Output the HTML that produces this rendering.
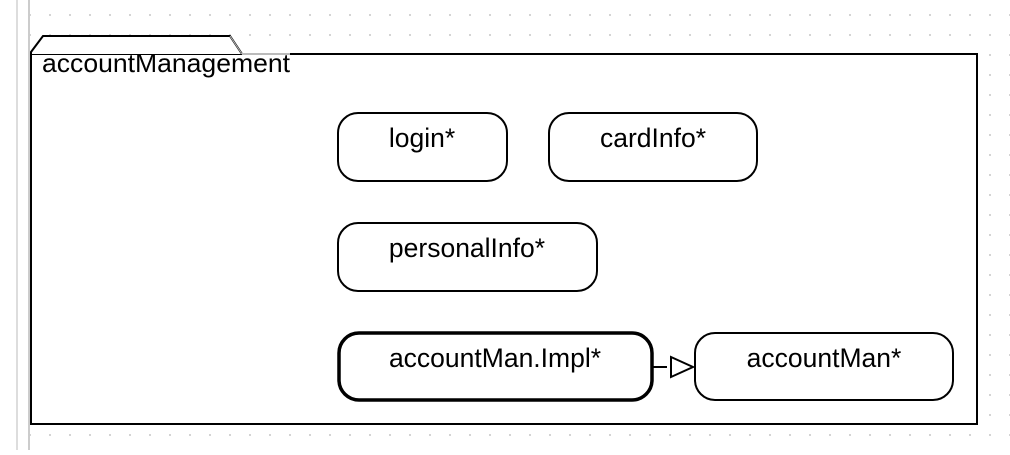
<!DOCTYPE html>
<html><head><style>
body{margin:0;width:1010px;height:450px;overflow:hidden;background:#fff;font-family:"Liberation Sans",sans-serif;}
</style></head><body>
<svg width="1010" height="450" xmlns="http://www.w3.org/2000/svg">
<defs><pattern id="d" x="0" y="0" width="20" height="20" patternUnits="userSpaceOnUse"><rect x="9" y="14" width="2" height="2" fill="#d4d4d4"/></pattern></defs>
<rect x="30" y="0" width="980" height="450" fill="url(#d)"/>
<line x1="17" y1="0" x2="17" y2="450" stroke="#ddd" stroke-width="2"/>
<line x1="29" y1="0" x2="29" y2="450" stroke="#ccc" stroke-width="2"/>
<rect x="31" y="54" width="946" height="370" fill="#fff" stroke="#000" stroke-width="2"/>
<path d="M31 54 L31 52 L43 36 L230 36 L242 54" fill="#fff" stroke="#000" stroke-width="2"/>
<rect x="32" y="55" width="258" height="4" fill="#fff"/>
<line x1="242" y1="54" x2="290" y2="54" stroke="#bbb" stroke-width="2"/>
<line x1="230" y1="36" x2="242" y2="54" stroke="#bbb" stroke-width="1"/>
<text x="42" y="72" font-size="26" textLength="248" lengthAdjust="spacingAndGlyphs" font-family="Liberation Sans,sans-serif">accountManagement</text>
<g fill="#fff" stroke="#000" stroke-width="2">
<rect x="338" y="113" width="169" height="68" rx="20"/>
<rect x="549" y="113" width="208" height="68" rx="20"/>
<rect x="338" y="223" width="259" height="68" rx="20"/>
<rect x="339" y="333" width="313" height="67" rx="20" stroke-width="3.5"/>
<rect x="695" y="333" width="258" height="67" rx="20"/>
</g>
<g font-size="26.5" text-anchor="middle" font-family="Liberation Sans,sans-serif">
<text x="422" y="147">login*</text>
<text x="653" y="147">cardInfo*</text>
<text x="467" y="257">personalInfo*</text>
<text x="495" y="367">accountMan.Impl*</text>
<text x="824" y="367">accountMan*</text>
</g>
<line x1="653" y1="367" x2="667" y2="367" stroke="#000" stroke-width="2"/>
<path d="M671 357 L693 367 L671 377 Z" fill="#fff" stroke="#000" stroke-width="2"/>
</svg>
</body></html>
